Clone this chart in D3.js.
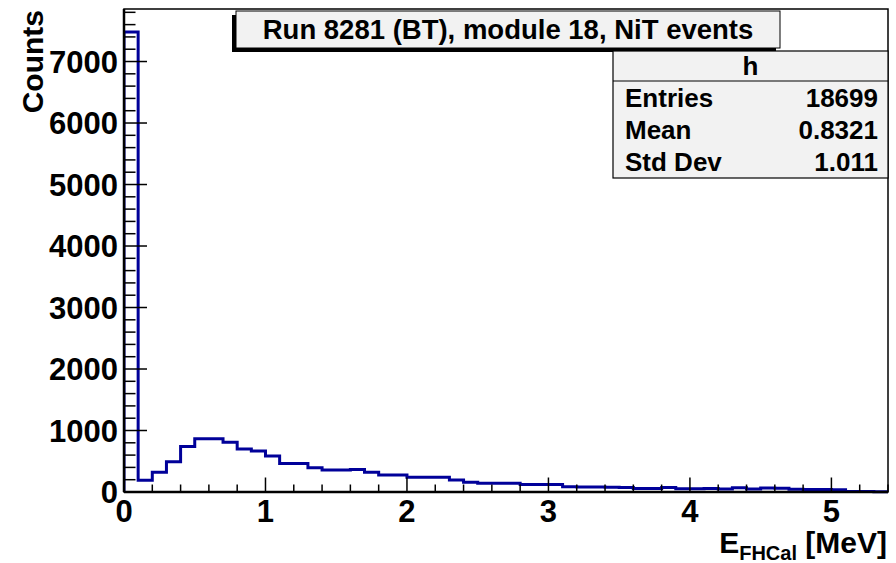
<!DOCTYPE html>
<html>
<head>
<meta charset="utf-8">
<script src="https://cdn.jsdelivr.net/npm/d3@7/dist/d3.min.js"></script>
<style>
  html, body { margin: 0; padding: 0; background: #ffffff; }
  svg { display: block; }
  text { font-family: "Liberation Sans", Arial, Helvetica, sans-serif; font-weight: bold; fill: #000; }
</style>
</head>
<body>
<svg id="chart" width="896" height="563"></svg>
<script>
// ---- data ----
const binWidth = 0.1;
const binStarts = d3.range(0, 54).map(i => +(i * 0.1).toFixed(1));
const counts = [
  7480, 190, 320, 490, 740, 865, 865, 810, 700, 665,
  585, 465, 465, 395, 358, 358, 365, 321, 278, 278,
  240, 240, 240, 197, 159, 143, 143, 143, 122, 122,
  122, 85, 82, 80, 78, 75, 55, 55, 72, 52,
  52, 58, 50, 68, 48, 65, 62, 45, 42, 40,
  38, 10, 8, 6
];
const xTicks = [0, 1, 2, 3, 4, 5];
const yTicks = [0, 1000, 2000, 3000, 4000, 5000, 6000, 7000];
const titleText = "Run 8281 (BT), module 18, NiT events";
const statsName = "h";
const statsLabels = ["Entries", "Mean", "Std Dev"];
const statsValues = ["18699", "0.8321", "1.011"];

// ---- layout ----
const svg = d3.select("#chart");
const fx0 = 124, fx1 = 888, fy0 = 9, fy1 = 492;
const x = d3.scaleLinear().domain([0, 5.4]).range([fx0, fx1]);
const yMax = d3.max(counts) * 1.05;
const y = d3.scaleLinear().domain([0, yMax]).range([fy1, fy0]);

// frame
svg.append("rect").attr("x", fx0).attr("y", fy0)
  .attr("width", fx1 - fx0).attr("height", fy1 - fy0)
  .attr("fill", "#fff").attr("stroke", "#000").attr("stroke-width", 1.5);

// histogram
const pts = [[0, 0]];
counts.forEach((c, i) => {
  pts.push([binStarts[i], c]);
  pts.push([binStarts[i] + binWidth, c]);
});
const line = d3.line().x(d => x(d[0])).y(d => y(d[1]));
svg.append("defs").append("clipPath").attr("id", "clip")
  .append("rect").attr("x", fx0).attr("y", fy0).attr("width", fx1 - fx0).attr("height", fy1 - fy0 + 2);
svg.append("path").attr("d", line(pts))
  .attr("fill", "none").attr("stroke", "#000099").attr("stroke-width", 3)
  .attr("clip-path", "url(#clip)");

// x axis ticks (inside, upward)
const xMinor = d3.range(0, 54.01, 2).map(v => v / 10);
svg.append("g").selectAll("line").data(xMinor).join("line")
  .attr("x1", d => x(d)).attr("x2", d => x(d))
  .attr("y1", fy1).attr("y2", d => fy1 - (Math.abs(d - Math.round(d)) < 1e-6 ? 14.5 : 7.5))
  .attr("stroke", "#000").attr("stroke-width", 1.5);
svg.append("line").attr("x1", fx0).attr("x2", fx1).attr("y1", fy1).attr("y2", fy1)
  .attr("stroke", "#000").attr("stroke-width", 2.5);
svg.append("g").selectAll("text").data(xTicks).join("text")
  .attr("x", d => x(d)).attr("y", 522).attr("text-anchor", "middle")
  .attr("font-size", 31).text(d => d);

// y axis ticks (inside, rightward)
const yMinor = d3.range(0, yMax, 200);
svg.append("g").selectAll("line").data(yMinor).join("line")
  .attr("x1", fx0).attr("x2", d => fx0 + (d % 1000 === 0 ? 23 : 11.5))
  .attr("y1", d => y(d)).attr("y2", d => y(d))
  .attr("stroke", "#000").attr("stroke-width", 1.5);
svg.append("line").attr("x1", fx0).attr("x2", fx0).attr("y1", fy0).attr("y2", fy1)
  .attr("stroke", "#000").attr("stroke-width", 2.5);
svg.append("g").selectAll("text").data(yTicks).join("text")
  .attr("x", 118).attr("y", d => y(d) + 11).attr("text-anchor", "end")
  .attr("font-size", 31).text(d => d);

// axis titles
svg.append("text").attr("transform", "translate(43,10) rotate(-90)")
  .attr("text-anchor", "end").attr("font-size", 30).text("Counts");
const xl = svg.append("text").attr("x", 887).attr("y", 553).attr("text-anchor", "end").attr("font-size", 30);
xl.append("tspan").text("E");
xl.append("tspan").attr("font-size", 20).attr("dy", 7).text("FHCal");
xl.append("tspan").attr("dy", -7).text(" [MeV]");

// title box with shadow
const tb = {x0: 236, x1: 780, y0: 11, y1: 48};
svg.append("rect").attr("x", tb.x0 - 4).attr("y", tb.y0 + 4)
  .attr("width", tb.x1 - tb.x0).attr("height", tb.y1 - tb.y0).attr("fill", "#000");
svg.append("rect").attr("x", tb.x0).attr("y", tb.y0)
  .attr("width", tb.x1 - tb.x0).attr("height", tb.y1 - tb.y0)
  .attr("fill", "#f2f2f2").attr("stroke", "#000").attr("stroke-width", 1);
svg.append("text").attr("x", (tb.x0 + tb.x1) / 2).attr("y", 39).attr("text-anchor", "middle")
  .attr("font-size", 27.5).text(titleText);

// stats box
const sb = {x0: 613, x1: 888, y0: 51, y1: 178, hy: 81};
svg.append("rect").attr("x", sb.x0).attr("y", sb.y0)
  .attr("width", sb.x1 - sb.x0).attr("height", sb.y1 - sb.y0)
  .attr("fill", "#f2f2f2").attr("stroke", "#000").attr("stroke-width", 1.2);
svg.append("line").attr("x1", sb.x0).attr("x2", sb.x1).attr("y1", sb.hy).attr("y2", sb.hy)
  .attr("stroke", "#000").attr("stroke-width", 1.2);
svg.append("text").attr("x", (sb.x0 + sb.x1) / 2).attr("y", 75).attr("text-anchor", "middle")
  .attr("font-size", 26).text(statsName);
const rowBase = [107, 139, 171];
svg.append("g").selectAll("text").data(statsLabels).join("text")
  .attr("x", 625).attr("y", (d, i) => rowBase[i]).attr("font-size", 26).text(d => d);
svg.append("g").selectAll("text").data(statsValues).join("text")
  .attr("x", 878).attr("y", (d, i) => rowBase[i]).attr("text-anchor", "end")
  .attr("font-size", 26).text(d => d);
</script>
</body>
</html>
